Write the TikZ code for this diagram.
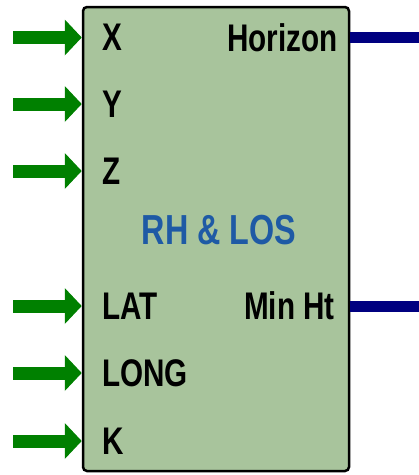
\documentclass[tikz,border=0pt]{standalone}
\usepackage{fontspec}
\setmainfont{Liberation Sans}[FakeStretch=0.77]
\usetikzlibrary{arrows.meta}
\definecolor{blockfill}{RGB}{168,196,156}
\definecolor{ingreen}{RGB}{0,128,0}
\definecolor{outnavy}{RGB}{0,0,128}
\definecolor{titleblue}{RGB}{30,90,165}
\begin{document}
\begin{tikzpicture}[x=1pt,y=-1pt,
  block/.style={draw=black,line width=2.5pt,fill=blockfill,rounded corners=4pt,
    minimum width=266pt,minimum height=464pt,inner sep=0pt},
  portlabel/.style={inner sep=0pt,font=\fontsize{38.5}{42}\selectfont\bfseries},
  inarrow/.style={draw=ingreen,line width=13pt,
    -{Triangle[length=17pt,width=35pt]}},
  outline/.style={draw=outnavy,line width=11pt}]
\useasboundingbox (0,0) rectangle (419,475);

% the block
\node[block] (blk) at (216,239) {};
\node[inner sep=0pt,text=titleblue,font=\fontsize{42}{46}\selectfont\bfseries]
  (title) at (219,230) {RH \& LOS};

% inputs
\foreach \name/\yy in {X/37.5,Y/104,Z/171,LAT/306,LONG/373,K/441}{
  \coordinate (src\name) at (13,\yy);
  \draw[inarrow] (src\name) -- (src\name -| blk.west);
  \node[portlabel,anchor=west] (lbl\name) at (102,\yy) {\name};
}

% outputs
\node[portlabel,anchor=east] (lblHorizon) at (338,38) {Horizon};
\node[portlabel,anchor=east] (lblMinHt) at (335,306) {Min Ht};
\coordinate (outHorizon) at (419,37);
\coordinate (outMinHt) at (419,306);
\draw[outline] (outHorizon -| blk.east) -- (outHorizon);
\draw[outline] (outMinHt -| blk.east) -- (outMinHt);
\end{tikzpicture}
\end{document}
